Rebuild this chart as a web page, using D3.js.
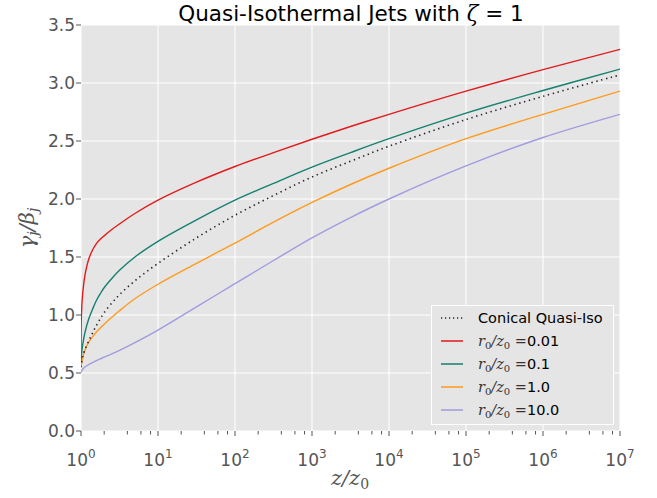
<!DOCTYPE html>
<html><head><meta charset="utf-8">
<script src="https://cdn.jsdelivr.net/npm/d3@7"></script>
<style>
body{margin:0;background:#fff;}
svg{display:block;}
</style></head>
<body>
<svg id="chart" width="657" height="498"></svg>
<script>
// ---- data ----
const zValues = [1, 1.007, 1.023, 1.047, 1.122, 1.259, 1.413, 1.585, 1.778, 1.995, 2.512, 3.162, 5.012, 10, 31.62, 100, 316.2, 1e3, 3162, 1e4, 1e5, 1e6, 1e7];
const conical = [0.55, 0.57, 0.595, 0.635, 0.70, 0.775, 0.845, 0.91, 0.967, 1.02, 1.103, 1.175, 1.295, 1.445, 1.665, 1.86, 2.03, 2.19, 2.325, 2.455, 2.685, 2.885, 3.07];
const r001 = [0.6, 0.95, 1.07, 1.17, 1.337, 1.48, 1.56, 1.615, 1.652, 1.682, 1.737, 1.785, 1.875, 1.99, 2.145, 2.28, 2.40, 2.515, 2.625, 2.73, 2.93, 3.115, 3.29];
const r01 = [0.57, 0.62, 0.68, 0.735, 0.845, 0.965, 1.05, 1.125, 1.183, 1.235, 1.315, 1.385, 1.50, 1.635, 1.82, 1.99, 2.135, 2.275, 2.40, 2.52, 2.74, 2.935, 3.12];
const r1 = [0.55, 0.565, 0.59, 0.622, 0.693, 0.766, 0.812, 0.853, 0.888, 0.92, 0.98, 1.037, 1.14, 1.265, 1.445, 1.62, 1.80, 1.97, 2.125, 2.265, 2.52, 2.73, 2.93];
const r10 = [0.505, 0.51, 0.52, 0.53, 0.551, 0.572, 0.59, 0.607, 0.622, 0.636, 0.665, 0.695, 0.762, 0.87, 1.07, 1.27, 1.47, 1.665, 1.84, 2.0, 2.285, 2.53, 2.73];
const seriesNames = ["Conical Quasi-Iso", "0.01", "0.1", "1.0", "10.0"];
const yTicks = [0, 0.5, 1.0, 1.5, 2.0, 2.5, 3.0, 3.5];
const xTickExps = [0, 1, 2, 3, 4, 5, 6, 7];

const series = [
  {name: seriesNames[0], values: conical, color: "#2b2030", dotted: true},
  {name: seriesNames[1], values: r001, color: "#e31a1c"},
  {name: seriesNames[2], values: r01, color: "#14806f"},
  {name: seriesNames[3], values: r1, color: "#ff9a1c"},
  {name: seriesNames[4], values: r10, color: "#a09be0"}
];

const svg = d3.select("#chart");
const L = 81, R = 620, T = 25, B = 431;
const x = d3.scaleLog().domain([1, 1e7]).range([L, R]);
const y = d3.scaleLinear().domain([0, 3.5]).range([B, T]);

// background
svg.append("rect").attr("x", L).attr("y", T).attr("width", R - L).attr("height", B - T).attr("fill", "#e5e5e5");

// grid
const g = svg.append("g");
xTickExps.forEach(e => {
  g.append("line").attr("x1", x(Math.pow(10, e))).attr("x2", x(Math.pow(10, e)))
    .attr("y1", T).attr("y2", B).attr("stroke", "#fff").attr("stroke-width", 1.1);
});
yTicks.forEach(v => {
  g.append("line").attr("x1", L).attr("x2", R).attr("y1", y(v)).attr("y2", y(v))
    .attr("stroke", "#fff").attr("stroke-width", 1.1);
});

// y axis ticks
const tickColor = "#555";
yTicks.forEach(v => {
  svg.append("line").attr("x1", L - 5).attr("x2", L).attr("y1", y(v)).attr("y2", y(v))
    .attr("stroke", tickColor).attr("stroke-width", 1);
  svg.append("text").attr("x", L - 6).attr("y", y(v)).attr("dy", "0.36em")
    .attr("text-anchor", "end").attr("font-family", "DejaVu Sans").attr("font-size", 17)
    .attr("fill", tickColor).text(d3.format(".1f")(v));
});

// x axis ticks (major + minor)
xTickExps.forEach(e => {
  const v = Math.pow(10, e);
  svg.append("line").attr("x1", x(v)).attr("x2", x(v)).attr("y1", B).attr("y2", B + 5)
    .attr("stroke", tickColor).attr("stroke-width", 1);
  const t = svg.append("text").attr("x", x(v)).attr("y", B + 35)
    .attr("text-anchor", "middle").attr("font-family", "DejaVu Sans").attr("font-size", 17)
    .attr("fill", tickColor);
  t.append("tspan").text("10");
  t.append("tspan").attr("font-size", 12).attr("dy", -8).text(String(e));
  if (e < 7) {
    [2, 4, 6, 8].forEach(m => {
      const mv = m * v;
      svg.append("line").attr("x1", x(mv)).attr("x2", x(mv)).attr("y1", B).attr("y2", B + 3.5)
        .attr("stroke", tickColor).attr("stroke-width", 1);
    });
  }
});

// lines
const line = d3.line().x((d, i) => x(zValues[i])).y(d => y(d)).curve(d3.curveCatmullRom.alpha(0.5));
svg.append("clipPath").attr("id", "clip").append("rect")
  .attr("x", L).attr("y", T).attr("width", R - L).attr("height", B - T);
const lines = svg.append("g").attr("clip-path", "url(#clip)");
[series[1], series[2], series[3], series[4], series[0]].forEach(s => {
  const p = lines.append("path").datum(s.values).attr("d", line).attr("fill", "none")
    .attr("stroke", s.color).attr("stroke-width", s.dotted ? 1.6 : 1.4);
  if (s.dotted) p.attr("stroke-dasharray", "1.4,3.6");
});

// title
const title = svg.append("text").attr("x", 351).attr("y", 21).attr("text-anchor", "middle")
  .attr("font-family", "DejaVu Sans").attr("font-size", 21.5).attr("fill", "#000");
title.append("tspan").text("Quasi-Isothermal Jets with ");
title.append("tspan").attr("font-family", "DejaVu Serif").attr("font-style", "italic").text("ζ");
title.append("tspan").text(" = 1");

// axis labels
const xl = svg.append("text").attr("x", 350).attr("y", 485).attr("text-anchor", "middle")
  .attr("font-family", "DejaVu Serif").attr("font-style", "italic").attr("font-size", 21).attr("fill", "#555");
xl.append("tspan").text("z/z");
xl.append("tspan").attr("font-size", 14).attr("dy", 4).attr("font-style", "normal").text("0");

const yl = svg.append("text").attr("transform", "translate(34,228) rotate(-90)").attr("text-anchor", "middle")
  .attr("font-family", "DejaVu Serif").attr("font-style", "italic").attr("font-size", 21).attr("fill", "#555");
yl.append("tspan").text("γ");
yl.append("tspan").attr("font-size", 14).attr("dy", 4).text("j");
yl.append("tspan").attr("dy", -4).text("/β");
yl.append("tspan").attr("font-size", 14).attr("dy", 4).text("j");

// legend
const lg = svg.append("g");
lg.append("rect").attr("x", 431.5).attr("y", 305.5).attr("width", 182).attr("height", 119)
  .attr("fill", "#e5e5e5").attr("stroke", "#fff").attr("stroke-width", 1);
series.forEach((s, i) => {
  const yy = 318 + i * 23;
  const ln = lg.append("line").attr("x1", 441).attr("x2", 463).attr("y1", yy).attr("y2", yy)
    .attr("stroke", s.color).attr("stroke-width", s.dotted ? 1.4 : 2).attr("opacity", s.dotted ? 1 : 0.75);
  if (s.dotted) ln.attr("stroke-dasharray", "1.2,2.8");
  const t = lg.append("text").attr("x", 478).attr("y", yy).attr("dy", "0.36em")
    .attr("font-family", "DejaVu Sans").attr("font-size", 14.5).attr("fill", "#000");
  if (s.dotted) {
    t.text(s.name);
  } else {
    const ff = "DejaVu Serif", fs = "italic";
    t.append("tspan").attr("font-family", ff).attr("font-style", fs).attr("fill", "#333").text("r");
    t.append("tspan").attr("font-size", 10).attr("dy", 3).attr("fill", "#333").attr("font-family", ff).text("0");
    t.append("tspan").attr("dy", -3).attr("font-family", ff).attr("font-style", fs).attr("fill", "#333").text("/z");
    t.append("tspan").attr("font-size", 10).attr("dy", 3).attr("fill", "#333").attr("font-family", ff).text("0");
    t.append("tspan").attr("dy", -3).attr("font-family", ff).attr("fill", "#333").text(" =");
    t.append("tspan").text(s.name);
  }
});
</script>
</body></html>
